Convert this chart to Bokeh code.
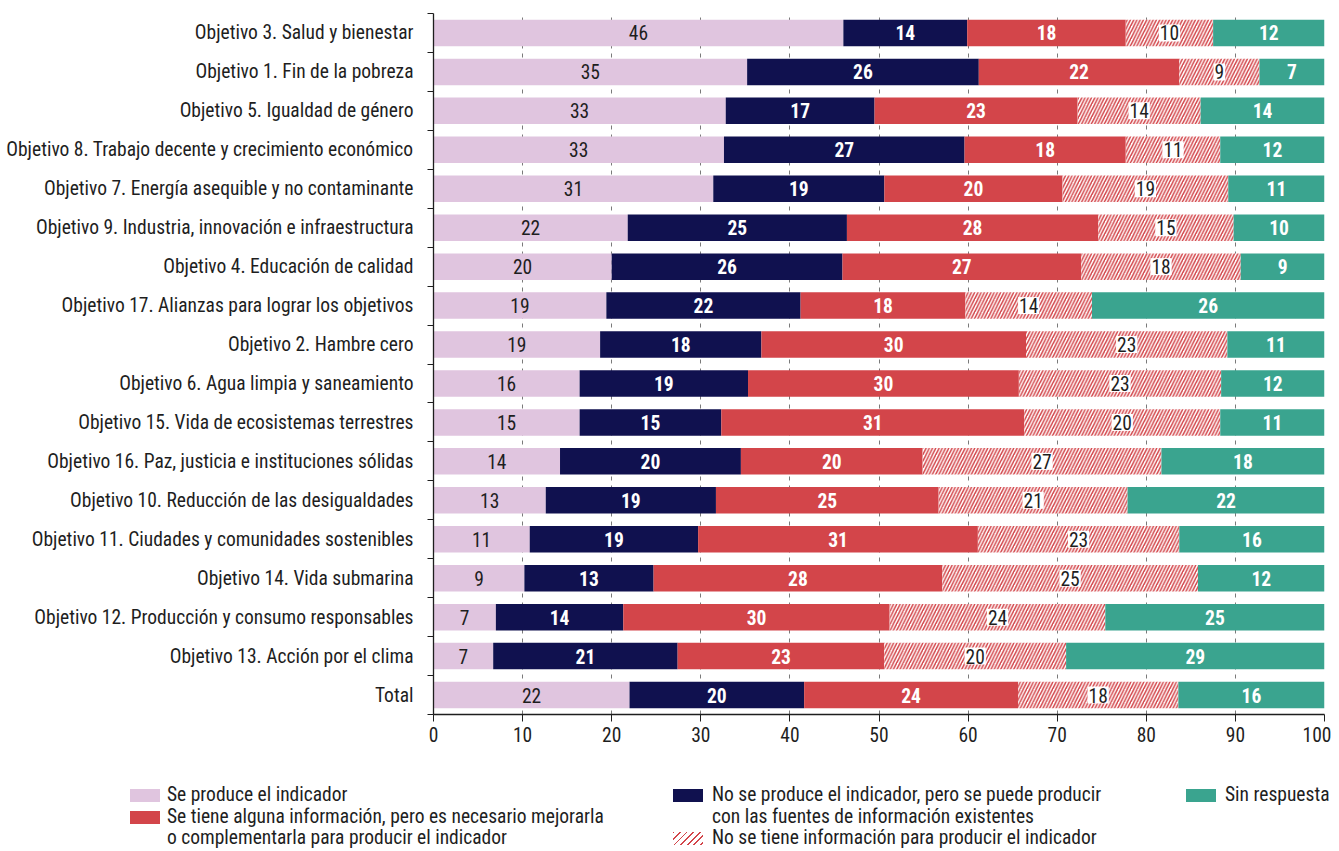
import numpy as np
from bokeh.plotting import figure
from bokeh.models import Range1d, FixedTicker, ColumnDataSource, Div
from bokeh.layouts import column
from bokeh.embed import file_html
from bokeh.resources import INLINE
from bokeh.core.properties import value

categories = [
    "Objetivo 3. Salud y bienestar",
    "Objetivo 1. Fin de la pobreza",
    "Objetivo 5. Igualdad de género",
    "Objetivo 8. Trabajo decente y crecimiento económico",
    "Objetivo 7. Energía asequible y no contaminante",
    "Objetivo 9. Industria, innovación e infraestructura",
    "Objetivo 4. Educación de calidad",
    "Objetivo 17. Alianzas para lograr los objetivos",
    "Objetivo 2. Hambre cero",
    "Objetivo 6. Agua limpia y saneamiento",
    "Objetivo 15. Vida de ecosistemas terrestres",
    "Objetivo 16. Paz, justicia e instituciones sólidas",
    "Objetivo 10. Reducción de las desigualdades",
    "Objetivo 11. Ciudades y comunidades sostenibles",
    "Objetivo 14. Vida submarina",
    "Objetivo 12. Producción y consumo responsables",
    "Objetivo 13. Acción por el clima",
    "Total",
]

# bar widths (share of the bar, %)
produce  = [46.0, 35.2, 32.8, 32.6, 31.4, 21.8, 20.0, 19.4, 18.7, 16.4, 16.4, 14.2, 12.6, 10.8, 10.2, 7.0, 6.7, 22.0]
puede    = [13.9, 26.0, 16.7, 27.0, 19.2, 24.6, 25.9, 21.8, 18.1, 18.9, 15.9, 20.3, 19.1, 18.9, 14.5, 14.3, 20.7, 19.6]
mejorar  = [17.8, 22.5, 22.8, 18.1, 20.0, 28.2, 26.8, 18.5, 29.7, 30.4, 34.0, 20.4, 25.0, 31.4, 32.4, 29.9, 23.2, 24.0]
sin_info = [9.8, 9.0, 13.8, 10.6, 18.6, 15.2, 17.9, 14.2, 22.6, 22.7, 22.0, 26.8, 21.2, 22.6, 28.7, 24.2, 20.4, 18.0]
sin_resp = [12.5, 7.3, 13.9, 11.7, 10.8, 10.2, 9.4, 26.1, 10.9, 11.6, 11.7, 18.3, 22.1, 16.3, 14.2, 24.6, 29.0, 16.4]

# printed labels
produce_lbl  = [46, 35, 33, 33, 31, 22, 20, 19, 19, 16, 15, 14, 13, 11, 9, 7, 7, 22]
puede_lbl    = [14, 26, 17, 27, 19, 25, 26, 22, 18, 19, 15, 20, 19, 19, 13, 14, 21, 20]
mejorar_lbl  = [18, 22, 23, 18, 20, 28, 27, 18, 30, 30, 31, 20, 25, 31, 28, 30, 23, 24]
sin_info_lbl = [10, 9, 14, 11, 19, 15, 18, 14, 23, 23, 20, 27, 21, 23, 25, 24, 20, 18]
sin_resp_lbl = [12, 7, 14, 12, 11, 10, 9, 26, 11, 12, 11, 18, 22, 16, 12, 25, 29, 16]

x_ticks = [0, 10, 20, 30, 40, 50, 60, 70, 80, 90, 100]

series_names = [
    "Se produce el indicador",
    "No se produce el indicador, pero se puede producir",
    "Se tiene alguna información, pero es necesario mejorarla",
    "No se tiene información para producir el indicador",
    "Sin respuesta",
]
legend_extra = [
    "o complementarla para producir el indicador",
    "con las fuentes de información existentes",
]

FONT = "Roboto Condensed"
FS = "19.5px"
PINK = "#e0c5df"
NAVY = "#10114f"
RED = "#d3454a"
GREEN = "#3aa48f"
DARK = "#1e1e1e"

n = len(categories)
ypos = [n - 0.5 - i for i in range(n)]

p = figure(width=1331, height=760, output_backend="svg", toolbar_location=None,
           x_range=Range1d(0, 100), y_range=Range1d(0, n),
           min_border_left=433, min_border_right=7, min_border_top=13, min_border_bottom=46)
p.outline_line_color = None
p.background_fill_color = "white"
p.border_fill_color = "white"

HATCH = dict(hatch_pattern="/", hatch_color=RED, hatch_scale=6.5, hatch_weight=1.5)
series = [
    (produce, produce_lbl, dict(fill_color=PINK), DARK, "normal", False),
    (puede, puede_lbl, dict(fill_color=NAVY), "white", "bold", False),
    (mejorar, mejorar_lbl, dict(fill_color=RED), "white", "bold", False),
    (sin_info, sin_info_lbl, dict(fill_color="white", **HATCH), DARK, "normal", True),
    (sin_resp, sin_resp_lbl, dict(fill_color=GREEN), "white", "bold", False),
]

left = np.zeros(n)
for vals, lbls, style, tcol, tstyle, boxed in series:
    v = np.array(vals)
    right = left + v
    src = ColumnDataSource(dict(y=ypos, left=left.copy(), right=right.copy(),
                                mid=(left + right) / 2, txt=[str(t) for t in lbls]))
    p.hbar(y="y", left="left", right="right", height=0.68, source=src, line_color=None, **style)
    kw = {}
    if boxed:
        kw = dict(background_fill_color="white", padding=1)
    p.text(x="mid", y="y", text="txt", source=src, text_align="center", text_baseline="middle",
           text_font=value(FONT), text_font_size=FS, text_font_style=tstyle, text_color=tcol, **kw)
    left = right

# axes
p.xaxis.ticker = FixedTicker(ticks=x_ticks)
p.xaxis.major_tick_out = 7
p.xaxis.major_tick_in = 0
p.xaxis.minor_tick_out = 0
p.xaxis.minor_tick_in = 0
p.xaxis.axis_line_color = DARK
p.xaxis.axis_line_width = 1.3
p.xaxis.major_tick_line_color = DARK
p.xaxis.major_label_text_font = FONT
p.xaxis.major_label_text_font_size = FS
p.xaxis.major_label_text_color = DARK
p.xaxis.major_label_standoff = 5

p.yaxis.ticker = FixedTicker(ticks=ypos, minor_ticks=list(range(n + 1)))
p.yaxis.major_label_overrides = {yv: c for yv, c in zip(ypos, categories)}
p.yaxis.major_tick_out = 0
p.yaxis.major_tick_in = 0
p.yaxis.minor_tick_out = 6
p.yaxis.minor_tick_in = 0
p.yaxis.minor_tick_line_color = DARK
p.yaxis.axis_line_color = DARK
p.yaxis.axis_line_width = 1.3
p.yaxis.major_label_text_font = FONT
p.yaxis.major_label_text_font_size = FS
p.yaxis.major_label_text_color = DARK
p.yaxis.major_label_standoff = 14

p.xgrid.ticker = FixedTicker(ticks=x_ticks)
p.xgrid.grid_line_color = "#7a7a7a"
p.xgrid.grid_line_dash = "4 5"
p.xgrid.grid_line_width = 1
p.ygrid.visible = False

# legend (HTML panel under the chart)
HATCH_CSS = ("repeating-linear-gradient(135deg, %s 0px, %s 1.4px, #ffffff 1.4px, #ffffff 4.6px)"
             % (RED, RED))
swatches = [  # (left, row, background)
    (130, 0, PINK), (130, 1, RED), (673, 0, NAVY), (673, 2, HATCH_CSS), (1186, 0, GREEN),
]
texts = [  # (left, row, text)
    (167, 0, series_names[0]), (167, 1, series_names[2]), (167, 2, legend_extra[0]),
    (712, 0, series_names[1]), (712, 1, legend_extra[1]), (712, 2, series_names[3]),
    (1225, 0, series_names[4]),
]
row_c = [35, 57, 78]
parts = []
for lx, row, bg in swatches:
    parts.append('<div style="position:absolute;left:%dpx;top:%.1fpx;width:30px;height:13px;'
                 'background:%s;"></div>' % (lx, row_c[row] - 6.5, bg))
for lx, row, t in texts:
    parts.append('<span style="position:absolute;left:%dpx;top:%dpx;line-height:22px;'
                 'white-space:nowrap;">%s</span>' % (lx, row_c[row] - 11, t))
html = ('<div style="position:relative;width:1331px;height:91px;overflow:hidden;'
        "font-family:'%s';font-size:%s;color:%s;\">%s</div>" % (FONT, FS, DARK, "".join(parts)))
leg = Div(text=html, width=1331, height=91, margin=(0, 0, 0, 0))

out = column(p, leg, spacing=0)
open("out.html", "w").write(file_html(out, INLINE))
